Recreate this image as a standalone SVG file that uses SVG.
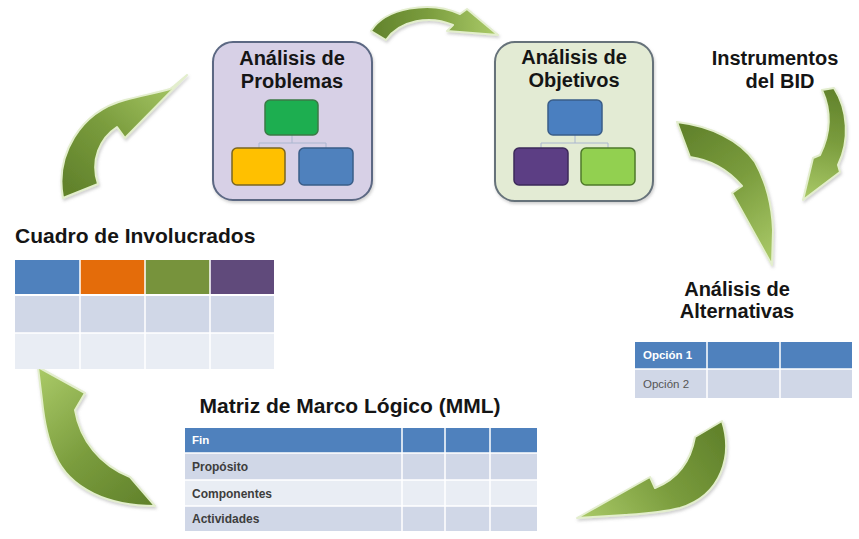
<svg xmlns="http://www.w3.org/2000/svg" width="859" height="539" viewBox="0 0 859 539">
<defs>
<style>
.title{font-family:"Liberation Sans",Arial,sans-serif;font-weight:bold;font-size:20px;fill:#151515;text-anchor:middle}
.arrow{stroke:#e3eecd;stroke-width:2;stroke-linejoin:round;filter:url(#shadow)}
.frame{stroke-width:2;filter:url(#shadow)}
.mini{stroke-width:1.5}
.link{fill:none;stroke:#aab6cf;stroke-width:1}
.sep{stroke:#ffffff;stroke-width:1.5}
.cellb{font-family:"Liberation Sans",Arial,sans-serif;font-weight:bold;font-size:12px;fill:#3d3d3d}
.cellw{font-family:"Liberation Sans",Arial,sans-serif;font-weight:bold;font-size:11.5px;fill:#ffffff}
.celln{font-family:"Liberation Sans",Arial,sans-serif;font-size:11.5px;fill:#555555}
</style>
<filter id="shadow" x="-20%" y="-20%" width="140%" height="140%">
<feDropShadow dx="1" dy="2" stdDeviation="1.5" flood-color="#777777" flood-opacity="0.35"/>
</filter>
<linearGradient id="gA" gradientUnits="userSpaceOnUse" x1="372" y1="35" x2="495" y2="30"><stop offset="0" stop-color="#62832c"/><stop offset="0.45" stop-color="#7a9c3d"/><stop offset="1" stop-color="#a9c967"/></linearGradient>
<linearGradient id="gB" gradientUnits="userSpaceOnUse" x1="80" y1="195" x2="180" y2="80"><stop offset="0" stop-color="#62832c"/><stop offset="0.45" stop-color="#7a9c3d"/><stop offset="1" stop-color="#a9c967"/></linearGradient>
<linearGradient id="gC" gradientUnits="userSpaceOnUse" x1="680" y1="135" x2="770" y2="260"><stop offset="0" stop-color="#62832c"/><stop offset="0.45" stop-color="#7a9c3d"/><stop offset="1" stop-color="#a9c967"/></linearGradient>
<linearGradient id="gD" gradientUnits="userSpaceOnUse" x1="828" y1="90" x2="805" y2="198"><stop offset="0" stop-color="#62832c"/><stop offset="0.45" stop-color="#7a9c3d"/><stop offset="1" stop-color="#a9c967"/></linearGradient>
<linearGradient id="gE" gradientUnits="userSpaceOnUse" x1="712" y1="425" x2="580" y2="517"><stop offset="0" stop-color="#62832c"/><stop offset="0.45" stop-color="#7a9c3d"/><stop offset="1" stop-color="#a9c967"/></linearGradient>
<linearGradient id="gF" gradientUnits="userSpaceOnUse" x1="150" y1="500" x2="40" y2="370"><stop offset="0" stop-color="#62832c"/><stop offset="0.45" stop-color="#7a9c3d"/><stop offset="1" stop-color="#a9c967"/></linearGradient>
</defs>
<rect width="859" height="539" fill="#ffffff"/>

<g id="connectors">
<path class="arrow" fill="url(#gA)" d="M371,31 C385,8 430,0 460,14 L467,9 L498,35 L447,31 L453,25 C430,15 400,20 386,40 Z"/>
<path class="arrow" fill="url(#gB)" d="M63,198 C55,155 80,112 125,100 C145,95 160,92 170,89 L174,86 L187,75 L125,138 L117,127 C100,138 90,160 98,184 Z"/>
<path class="arrow" fill="url(#gC)" d="M677,122 C710,126 740,140 755,162 C765,180 772,205 773,230 L772,265 L732,193 L742,186 C730,172 712,160 690,157 Z"/>
<path class="arrow" fill="url(#gD)" d="M822,90 L834,88 C848,110 850,140 838,165 L840,172 L803,200 L813,158 L820,155 C830,135 832,112 822,90 Z"/>
<path class="arrow" fill="url(#gE)" d="M722,421 C733,455 722,495 680,508 C660,513 640,514 625,515 L577,518 L650,477 L655,488 C675,480 690,465 695,437 Z"/>
<path class="arrow" fill="url(#gF)" d="M155,506 C110,506 70,490 55,455 C48,440 44,420 42,400 L38,367 L85,393 L75,410 C80,440 100,465 130,477 Z"/>
</g>

<g id="problemas">
<rect class="frame" x="213" y="42" width="159" height="158" rx="20" fill="#d7d0e6" stroke="#5b6883"/>
<text class="title" x="292" y="65">Análisis de</text>
<text class="title" x="292" y="88">Problemas</text>
<path class="link" d="M292,135 V143 M259,143 H326 M259,143 V148 M326,143 V148"/>
<rect class="mini" x="265" y="100" width="53" height="35" rx="5" fill="#1dae50" stroke="#3b7a45"/>
<rect class="mini" x="232" y="148" width="53" height="37" rx="5" fill="#ffc000" stroke="#7a6620"/>
<rect class="mini" x="299" y="148" width="54" height="37" rx="5" fill="#4f81bd" stroke="#3a5d88"/>
</g>

<g id="objetivos">
<rect class="frame" x="495" y="42" width="158" height="159" rx="20" fill="#e3ebd4" stroke="#66727a"/>
<text class="title" x="574" y="64">Análisis de</text>
<text class="title" x="574" y="87">Objetivos</text>
<path class="link" d="M575,135 V143 M541,143 H608 M541,143 V148 M608,143 V148"/>
<rect class="mini" x="548" y="100" width="54" height="35" rx="5" fill="#4a7fc0" stroke="#3a5d88"/>
<rect class="mini" x="514" y="148" width="54" height="37" rx="5" fill="#5c3e84" stroke="#3d2a5a"/>
<rect class="mini" x="581" y="148" width="54" height="37" rx="5" fill="#92d050" stroke="#4f7a2a"/>
</g>

<g id="instrumentos">
<text class="title" x="775" y="65">Instrumentos</text>
<text class="title" x="780" y="88">del BID</text>
</g>

<g id="involucrados">
<text class="title" x="15" y="243" style="text-anchor:start;font-size:21px">Cuadro de Involucrados</text>
<rect x="15" y="260" width="65" height="34" fill="#4f81bd"/>
<rect x="80" y="260" width="65" height="34" fill="#e46c0a"/>
<rect x="145" y="260" width="65" height="34" fill="#77933c"/>
<rect x="210" y="260" width="64" height="34" fill="#604a7b"/>
<rect x="15" y="296" width="259" height="37" fill="#d0d7e7"/>
<rect x="15" y="333" width="259" height="36" fill="#e9edf4"/>
<path class="sep" d="M80,260 V369 M145,260 V369 M210,260 V369 M15,333 H274"/>
</g>

<g id="alternativas">
<text class="title" x="737" y="296">Análisis de</text>
<text class="title" x="737" y="318">Alternativas</text>
<rect x="635" y="342" width="217" height="27" fill="#4f81bd"/>
<rect x="635" y="369" width="217" height="29" fill="#d0d7e7"/>
<path class="sep" d="M707,342 V398 M780,342 V398 M635,369 H852"/>
<text class="cellw" x="643" y="359">Opción 1</text>
<text class="celln" x="643" y="388">Opción 2</text>
</g>

<g id="mml">
<text class="title" x="350" y="413" style="font-size:21px">Matriz de Marco Lógico (MML)</text>
<rect x="185" y="428" width="352" height="25" fill="#4f81bd"/>
<rect x="185" y="453" width="352" height="27" fill="#d0d7e7"/>
<rect x="185" y="480" width="352" height="26" fill="#e9edf4"/>
<rect x="185" y="506" width="352" height="25" fill="#d0d7e7"/>
<path class="sep" d="M402,428 V531 M445,428 V531 M490,428 V531 M185,453 H537 M185,480 H537 M185,506 H537"/>
<text class="cellw" x="192" y="444">Fin</text>
<text class="cellb" x="192" y="471">Propósito</text>
<text class="cellb" x="192" y="498">Componentes</text>
<text class="cellb" x="192" y="523">Actividades</text>
</g>
</svg>
